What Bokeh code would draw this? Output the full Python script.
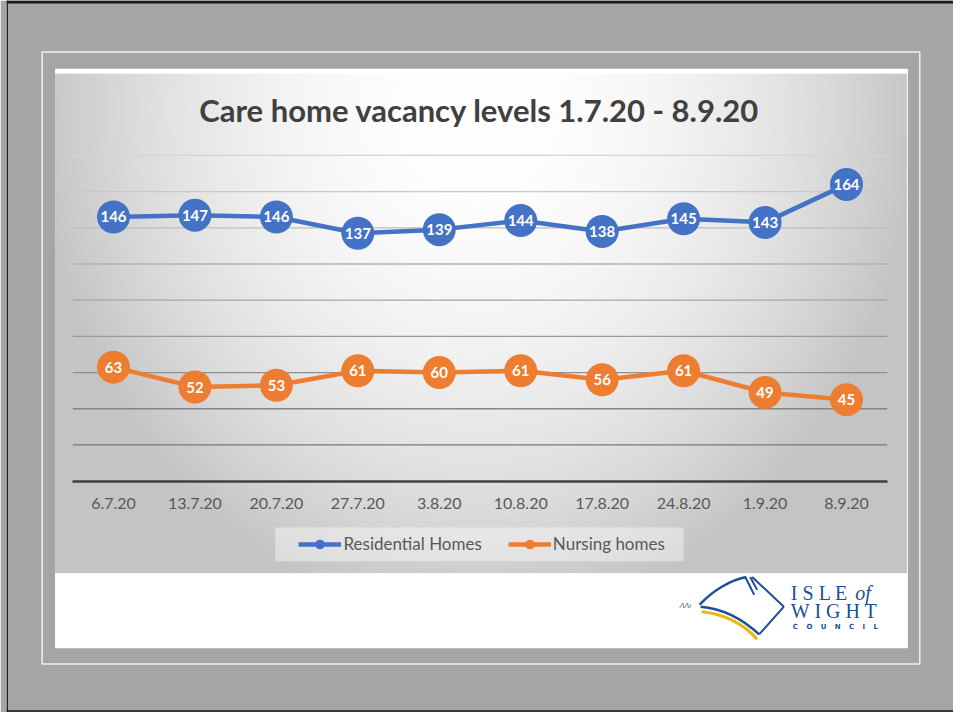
import numpy as np
from bokeh.plotting import figure
from bokeh.models import (ColumnDataSource, Range1d, FactorRange, CategoricalAxis,
                          Legend, LegendItem, Label)
from bokeh.core.properties import value
from bokeh.embed import file_html
from bokeh.resources import INLINE

# ---------------- data ----------------
chart_title = "Care home vacancy levels 1.7.20 - 8.9.20"
dates = ["6.7.20", "13.7.20", "20.7.20", "27.7.20", "3.8.20",
         "10.8.20", "17.8.20", "24.8.20", "1.9.20", "8.9.20"]
residential = [146, 147, 146, 137, 139, 144, 138, 145, 143, 164]
nursing = [63, 52, 53, 61, 60, 61, 56, 61, 49, 45]
series_names = ["Residential Homes", "Nursing homes"]
grid_values = [20, 40, 60, 80, 100, 120, 140, 160, 180]
value_max = 180

# ---------------- layout constants ----------------
W, H = 953, 712
RW, RH = 961, 720                 # reference design size
SX, SY = W / RW, H / RH
PL, PR = 72.7, 894.0              # plot area left/right (reference px)
P0, PTOP = 486.0, 156.7           # y of value 0 / value_max (reference px)


def fx(rx):
    return rx * SX


def fy(ry):
    return ry * SY


n = len(dates)
BL = int(round(fx(PL) - (W - fx(PR))))      # left border to keep padding symmetric
FW = W - BL
ppx = (fx(PR) - fx(PL)) / n
pad = (FW / ppx - n) / 2.0
ppu = (fy(P0) - fy(PTOP)) / value_max
vstart = -(H - fy(P0)) / ppu


def X(rx):
    return -pad + (fx(rx) - BL) / ppx


def Y(ry):
    return vstart + (H - fy(ry)) / ppu


GRAY = "#a5a5a5"
BLUE = "#4472C4"
ORANGE = "#ED7D31"
LOGO_BLUE = "#1c4f96"
LOGO_YELLOW = "#f1b50c"

p = figure(width=W, height=H,
           x_range=FactorRange(factors=dates, range_padding=pad, range_padding_units="absolute"),
           y_range=Range1d(vstart, vstart + H / ppu),
           output_backend="svg", toolbar_location=None, min_border=0, min_border_left=BL,
           x_axis_location=None, y_axis_location=None,
           background_fill_color=GRAY, border_fill_color=GRAY,
           outline_line_color=None)
for g in p.grid:
    g.visible = False

# ---------------- slide decoration ----------------
p.quad(left=X(BL / SX), right=X(RW), bottom=Y(720), top=Y(717.5), fill_color="#3a3a3a", line_color=None)
p.quad(left=X(BL / SX), right=X(RW), bottom=Y(3), top=Y(0), fill_color="#1a1a1a", line_color=None)
p.quad(left=X(BL / SX), right=X(7.5), bottom=Y(720), top=Y(0), fill_color="#1a1a1a", line_color=None)
p.quad(left=X(42), right=X(927), top=Y(52), bottom=Y(671),
       fill_color=None, line_color="#f0f0f0", line_width=1.5)
p.quad(left=X(55), right=X(915), top=Y(69), bottom=Y(655),
       fill_color="white", line_color=None)

# gradient chart background
gx0, gx1, gy0, gy1 = 55, 914, 74, 579
nx, ny = (gx1 - gx0) // 2, (gy1 - gy0) // 2
xs = gx0 + (np.arange(nx) + 0.5) * (gx1 - gx0) / nx
ys = gy1 - (np.arange(ny) + 0.5) * (gy1 - gy0) / ny
XX, YY = np.meshgrid(xs, ys)
t2 = ((XX - 480) / 430.0) ** 2 + ((YY - 110) / 500.0) ** 2
lev = np.clip(255 - 55 * t2, 196, 255).astype(np.uint8)
img = np.empty((ny, nx), dtype=np.uint32)
view = img.view(dtype=np.uint8).reshape((ny, nx, 4))
view[:, :, 0] = lev
view[:, :, 1] = lev
view[:, :, 2] = lev
view[:, :, 3] = 255
p.image_rgba(image=[img], x=X(gx0), y=Y(gy1), dw=X(gx1) - X(gx0), dh=Y(gy0) - Y(gy1))

# legend backdrop
p.quad(left=X(277), right=X(689), top=Y(533), bottom=Y(567),
       fill_color="white", fill_alpha=0.4, line_color=None)

# ---------------- gridlines & axis ----------------
glev = [int(round(0x78 + (0xd4 - 0x78) * (v - grid_values[0]) / (grid_values[-1] - grid_values[0])))
        for v in grid_values]
grid_src = ColumnDataSource(dict(y=grid_values,
                                 c=["#%02x%02x%02x" % (l, l, l) for l in glev]))
p.segment(x0=0, x1=n, y0="y", y1="y", source=grid_src, line_color="c", line_width=1.3)

ax = CategoricalAxis(fixed_location=0, bounds=(0, n))
ax.axis_line_color = "#404040"
ax.axis_line_width = 2.5
ax.major_tick_line_color = None
ax.major_tick_in = 0
ax.major_tick_out = 0
ax.minor_tick_line_color = None
ax.major_label_text_font = "Lato"
ax.major_label_text_font_size = "16px"
ax.major_label_text_color = "#595959"
ax.major_label_standoff = 17
p.add_layout(ax, "below")

# ---------------- series ----------------
src = ColumnDataSource(dict(date=dates, res=residential, nur=nursing,
                            res_t=[str(v) for v in residential],
                            nur_t=[str(v) for v in nursing]))
items = []
for col, color, name in [("res", BLUE, series_names[0]), ("nur", ORANGE, series_names[1])]:
    lr = p.line("date", col, source=src, line_color=color, line_width=4.5)
    sr = p.scatter("date", col, source=src, size=33, fill_color=color, line_color=None)
    p.text("date", col, text=col + "_t", source=src, text_font=value("Lato"),
           text_font_style="bold", text_font_size="15px", text_color="white",
           text_align="center", text_baseline="middle")
    items.append(LegendItem(label=name, renderers=[lr, sr]))

legend = Legend(items=items, orientation="horizontal",
                location=(fx(301) - BL, H - fy(567) + 5),
                padding=5, spacing=26, label_standoff=2, glyph_width=43, glyph_height=24,
                background_fill_alpha=0, border_line_color=None, margin=0,
                label_text_font="Lato", label_text_font_size="17px",
                label_text_color="#595959")
p.add_layout(legend)

# ---------------- title ----------------
p.add_layout(Label(x=X(483), y=Y(111), text=chart_title, text_align="center",
                   text_baseline="alphabetic", text_font="Lato", text_font_style="bold",
                   text_font_size="31px", text_color="#404040"))

# ---------------- logo ----------------
p.bezier(x0=X(705), y0=Y(611), x1=X(752), y1=Y(583), cx0=X(718), cy0=Y(597),
         cx1=X(736), cy1=Y(586), line_color=LOGO_BLUE, line_width=2.5)
p.bezier(x0=X(706), y0=Y(613), x1=X(765), y1=Y(641), cx0=X(730), cy0=Y(615),
         cx1=X(750), cy1=Y(627), line_color=LOGO_BLUE, line_width=2.5)
p.bezier(x0=X(707), y0=Y(618), x1=X(763), y1=Y(646), cx0=X(730), cy0=Y(620),
         cx1=X(750), cy1=Y(631), line_color=LOGO_YELLOW, line_width=3)
p.segment(x0=[X(751), X(756), X(758), X(790)], y0=[Y(583), Y(583), Y(583), Y(613)],
          x1=[X(760), X(763), X(790), X(765)], y1=[Y(601), Y(596), Y(613), Y(641)],
          line_color=LOGO_BLUE, line_width=2)
p.add_layout(Label(x=X(685), y=Y(612), text="\u039b\u039b\u0131", text_font="DejaVu Sans",
                   text_font_style="italic", text_font_size="7px", text_color=LOGO_BLUE,
                   text_baseline="alphabetic"))
p.add_layout(Label(x=X(797), y=Y(599), text="I S L E", text_font="Liberation Serif",
                   text_font_size="20px", text_color=LOGO_BLUE, text_baseline="alphabetic"))
p.add_layout(Label(x=X(862), y=Y(599), text="of", text_font="Liberation Serif",
                   text_font_style="italic", text_font_size="20px", text_color=LOGO_BLUE,
                   text_baseline="alphabetic"))
p.add_layout(Label(x=X(797), y=Y(617), text="W I G H T", text_font="Liberation Serif",
                   text_font_size="20px", text_color=LOGO_BLUE, text_baseline="alphabetic"))
p.add_layout(Label(x=X(799), y=Y(634),
                   text="\u2003\u2009".join("COUNCIL"), text_font="DejaVu Sans",
                   text_font_style="bold", text_font_size="7px", text_color=LOGO_BLUE,
                   text_baseline="alphabetic"))

open("out.html", "w").write(file_html(p, INLINE, "Care home vacancy levels"))
